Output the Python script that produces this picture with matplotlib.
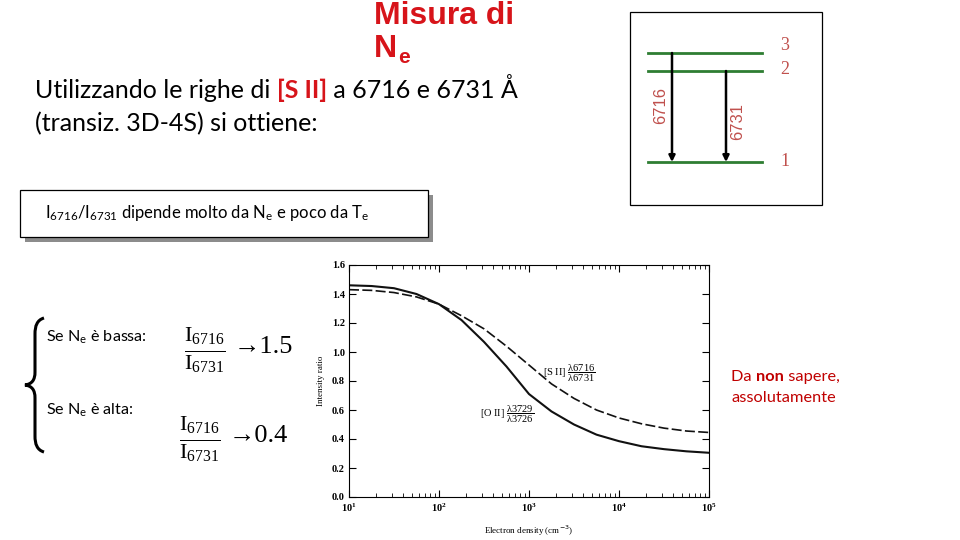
import numpy as np
import matplotlib
matplotlib.use("Agg")
import matplotlib.pyplot as plt
from matplotlib.path import Path
from matplotlib.patches import PathPatch, Rectangle

# electron density grid (cm^-3) and intensity ratios
density = [10, 17.8, 31.6, 56.2, 100, 178, 316, 562, 1000, 1778, 3162, 5623,
           10000, 17783, 31623, 56234, 100000]
ratio_oii = [1.46, 1.455, 1.44, 1.40, 1.33, 1.22, 1.07, 0.90, 0.71, 0.59, 0.50,
             0.43, 0.385, 0.35, 0.33, 0.315, 0.305]
ratio_sii = [1.43, 1.425, 1.41, 1.38, 1.33, 1.25, 1.16, 1.04, 0.91, 0.78, 0.68,
             0.60, 0.545, 0.505, 0.475, 0.455, 0.445]
yticks = [0.0, 0.2, 0.4, 0.6, 0.8, 1.0, 1.2, 1.4, 1.6]
levels = ["3", "2", "1"]

RED = "#d7141a"
BROWN = "#c0504d"
GREEN = "#2e7d32"

fig = plt.figure(figsize=(9.6, 5.4), dpi=100)

# background axes in pixel coordinates for the slide decorations
bg = fig.add_axes([0, 0, 1, 1])
bg.set_xlim(0, 960)
bg.set_ylim(540, 0)
bg.axis("off")

r = fig.canvas.get_renderer()


def put(x, y, parts, size, family="Lato"):
    # write coloured pieces one after another on the same baseline
    for txt, col, w in parts:
        t = bg.text(x, y, txt, fontsize=size, color=col, fontweight=w,
                    family=family, va="baseline", ha="left")
        x += t.get_window_extent(r).width
    return x


# title
bg.text(374, 24, "Misura di", fontsize=23, color=RED, fontweight="bold",
        family="Liberation Sans", va="baseline")
bg.text(374, 57, "N", fontsize=23, color=RED, fontweight="bold",
        family="Liberation Sans", va="baseline")
bg.text(398, 63, "e", fontsize=15, color=RED, fontweight="bold",
        family="Liberation Sans", va="baseline")

put(35, 98, [("Utilizzando le righe di ", "black", "normal"),
             ("[S II]", RED, "bold"),
             (" a 6716 e 6731 Å", "black", "normal")], 18)
put(35, 131, [("(transiz. 3D-4S) si ottiene:", "black", "normal")], 18)

# energy level diagram
bg.add_patch(Rectangle((630, 12), 192, 193, fill=False, ec="black", lw=0.9))
for yl in [53, 71, 162]:
    bg.plot([648, 762], [yl, yl], color=GREEN, lw=2)
for yl, lab in zip([45, 70, 162], levels):
    bg.text(785, yl, lab, fontsize=13, color=BROWN,
            family="Liberation Serif", ha="center", va="center")
bg.annotate("", xy=(672, 162), xytext=(672, 53),
            arrowprops=dict(arrowstyle="-|>", color="black", lw=1.8,
                            mutation_scale=9, shrinkA=0, shrinkB=0))
bg.annotate("", xy=(726, 162), xytext=(726, 71),
            arrowprops=dict(arrowstyle="-|>", color="black", lw=1.8,
                            mutation_scale=9, shrinkA=0, shrinkB=0))
bg.text(661, 106, "6716", rotation=90, fontsize=12, color=BROWN,
        family="Liberation Sans", ha="center", va="center")
bg.text(738, 121, "6731", rotation=90, fontsize=12, color=BROWN,
        family="Liberation Sans", ha="center", va="center")

# boxed remark with shadow
bg.add_patch(Rectangle((25, 195), 408, 47, fc="#8c8c8c", ec="none"))
bg.add_patch(Rectangle((20, 190), 408, 47, fc="white", ec="black", lw=0.9))
bg.text(45, 218, r"$\mathregular{I_{6716}/I_{6731}}$ dipende molto da "
        r"$\mathregular{N_e}$ e poco da $\mathregular{T_e}$",
        fontsize=12, family="Lato", va="baseline")

# curly brace
verts = [(44, 318), (37, 320), (35, 326), (35, 334),
         (35, 372), (35, 380), (32, 384), (25, 385),
         (32, 386), (35, 390), (35, 398),
         (35, 436), (35, 444), (37, 450), (44, 452)]
codes = [Path.MOVETO, Path.CURVE4, Path.CURVE4, Path.CURVE4,
         Path.LINETO, Path.CURVE4, Path.CURVE4, Path.CURVE4,
         Path.CURVE4, Path.CURVE4, Path.CURVE4,
         Path.LINETO, Path.CURVE4, Path.CURVE4, Path.CURVE4]
bg.add_patch(PathPatch(Path(verts, codes), fill=False, lw=2.2, color="black"))

bg.text(46, 342, r"Se $\mathregular{N_e}$ è bassa:", fontsize=11.6,
        family="Lato", va="baseline")
bg.text(46, 415, r"Se $\mathregular{N_e}$ è alta:", fontsize=11.6,
        family="Lato", va="baseline")
bg.text(184, 350, r"$\mathregular{\frac{I_{6716}}{I_{6731}}}$",
        fontsize=23, family="Liberation Serif", va="center")
bg.text(234, 347, "→1.5", fontsize=19, family="Liberation Serif", va="center")
bg.text(179, 439, r"$\mathregular{\frac{I_{6716}}{I_{6731}}}$",
        fontsize=23, family="Liberation Serif", va="center")
bg.text(229, 436, "→0.4", fontsize=19, family="Liberation Serif", va="center")

# red note
put(731, 381, [("Da ", "#c00000", "normal"), ("non", "#c00000", "bold"),
               (" sapere,", "#c00000", "normal")], 11.8)
put(731, 402, [("assolutamente", "#c00000", "normal")], 11.8)

# the scanned chart
ax = fig.add_axes([349 / 960, 1 - 497 / 540, 360 / 960, 232 / 540])
ax.plot(density, ratio_oii, color="#111111", lw=1.5)
ax.plot(density, ratio_sii, color="#111111", lw=1.2, dashes=(6, 2))
ax.set_xscale("log")
ax.set_xlim(10, 1e5)
ax.set_ylim(0, 1.6)
ax.set_yticks(yticks)
ax.set_yticklabels([f"{v:.1f}" for v in yticks])
ax.tick_params(which="both", direction="in", top=True, right=True,
               labelsize=7.5, pad=3)
ax.tick_params(which="major", length=5, width=0.8)
ax.tick_params(which="minor", length=3, width=0.6)
for lab in ax.get_xticklabels() + ax.get_yticklabels():
    lab.set_family("Liberation Serif")
    lab.set_fontweight("bold")
for s in ax.spines.values():
    s.set_linewidth(0.8)
ax.set_ylabel("Intensity ratio", fontsize=6.5, family="Liberation Serif",
              labelpad=5)
ax.set_xlabel("Electron density (cm$^{-3}$)", fontsize=6.5,
              family="Liberation Serif", labelpad=7)
ax.text(1430, 0.85, r"[S II] $\mathregular{\dfrac{λ6716}{λ6731}}$",
        fontsize=7.5, family="Liberation Serif", va="center")
ax.text(283, 0.57, r"[O II] $\mathregular{\dfrac{λ3729}{λ3726}}$",
        fontsize=7.5, family="Liberation Serif", va="center")

fig.savefig("out.png", dpi=100)
